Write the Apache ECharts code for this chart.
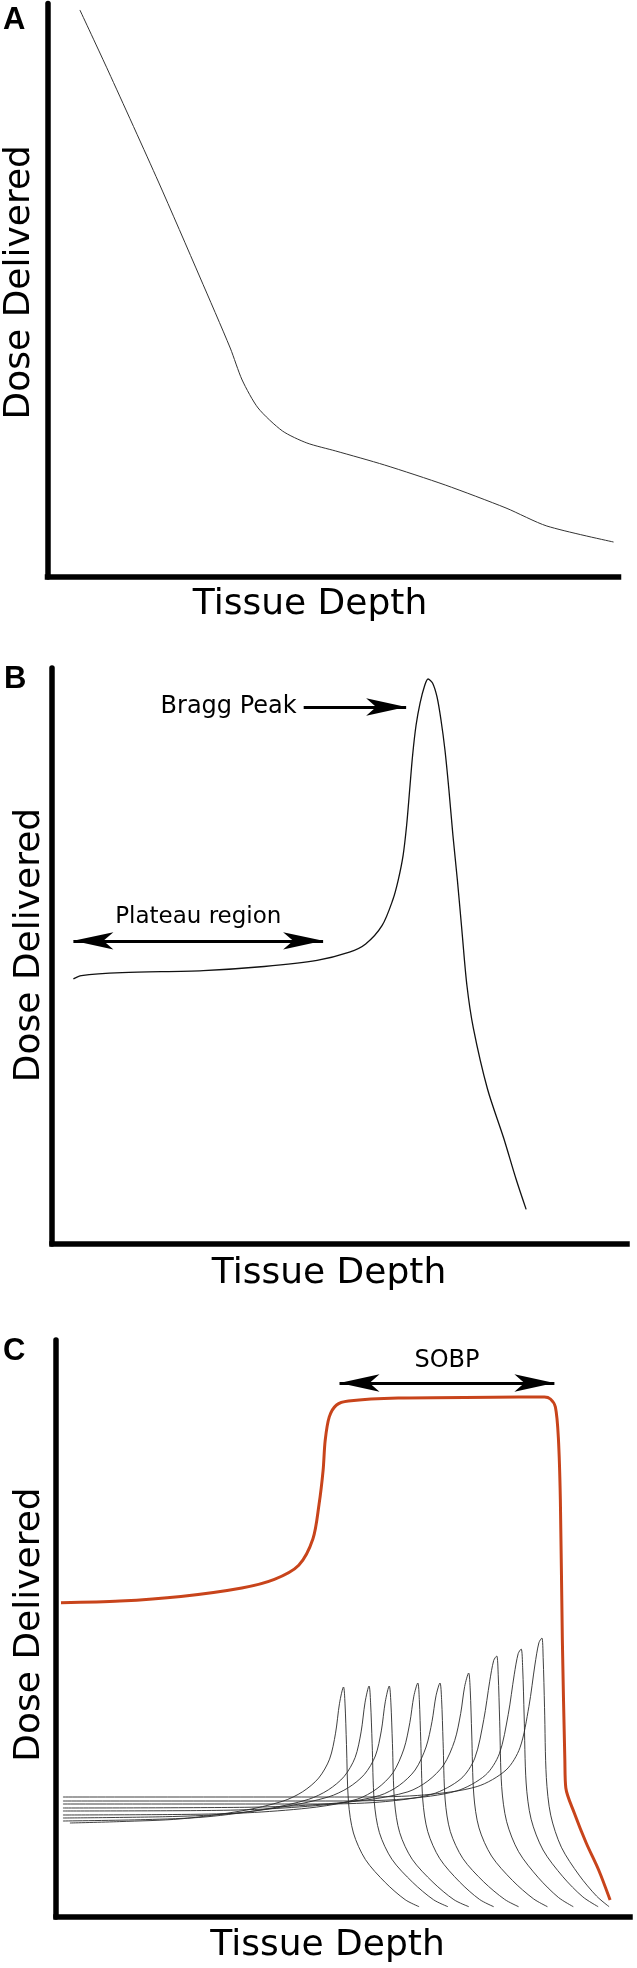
<!DOCTYPE html>
<html>
<head>
<meta charset="utf-8">
<script src="https://cdn.jsdelivr.net/npm/echarts/dist/echarts.min.js"></script>
<style>
  html, body { margin: 0; padding: 0; background: #fff; }
  #main { width: 637px; height: 1968px; }
</style>
</head>
<body>
<div id="main"></div>
<script>
// panel A: dose falls with depth (x: depth 0-100, y: dose 0-100)
var curveA = [[5.67,98.87],[10.64,88.23],[19.44,68.87],[26.68,52.31],[32.0,39.93],[34.09,34.35],[36.88,29.47],
  [41.15,25.46],[45.42,23.37],[50.48,21.97],[59.02,19.53],[69.66,16.04],[80.30,12.03],[87.45,8.89],[99.13,6.10]];

// panel B: single Bragg curve
var curveB = [[3.72,46.04],[5.12,46.61],[12.18,47.10],[26.30,47.47],[36.90,48.18],[46.09,49.24],[51.73,50.66],
  [54.55,52.08],[57.39,55.26],[59.26,59.72],[60.21,63.19],[61.07,67.53],[61.68,72.74],[62.20,78.82],[62.72,84.90],
  [63.32,90.10],[64.01,93.92],[64.79,96.88],[65.40,98.09],[66.18,97.40],[66.96,94.97],[67.65,90.97],[68.34,85.76],
  [69.03,78.82],[69.72,71.01],[70.50,63.19],[71.28,54.51],[72.15,44.97],[73.27,37.53],[75.74,26.91],[78.55,18.40],
  [80.69,11.32],[82.46,6.01]];
// arrow ends (tips)
var braggArrow = [[43.77,93.23],[61.59,93.23]];
var plateauArrow = [[3.72,52.64],[47.15,52.64]];

// panel C: spread-out Bragg peak (x, y in 0-57.7)
var sobp = [[0.5,31.42],[6.42,31.59],[12.55,32.06],[18.68,32.91],[21.95,33.77],[24.4,35.18],[25.83,37.83],
  [26.44,41.25],[26.85,44.67],[27.06,47.66],[27.47,50.01],[28.2,51.2],[29.4,51.6],[34.4,51.9],[44.0,51.97],
  [49.1,52.0],[49.7,51.8],[50.2,51.0],[50.5,47.9],[50.7,41.7],[50.9,27.7],[51.15,15.7],[51.25,12.9],[52.1,10.4],
  [53.3,7.4],[54.55,4.7],[55.7,1.7]];
var sobpArrow = [[28.5,53.4],[50.1,53.4]];

var peak1 = [[1.4,9.4],[6.4,9.54],[12.5,9.81],[18.7,10.62],[22.8,11.58],[24.8,12.53],[26.4,13.89],[27.5,15.79],
  [28.1,18.38],[28.5,21.37],[28.9,23.0],[29.05,21.39],[29.2,17.25],[29.4,11.5],[29.9,8.4],[31.1,5.75],[33.1,3.45],
  [35.1,1.73],[36.5,1.03]];
var peak2 = [[0.7,9.6],[8.97,9.74],[15.07,10.01],[21.27,10.82],[25.37,11.76],[27.37,12.71],[28.97,14.06],[30.07,15.95],
  [30.67,18.51],[31.07,21.48],[31.47,23.1],[31.62,21.48],[31.78,17.33],[31.99,11.55],[32.51,8.43],[33.76,5.78],
  [35.85,3.47],[37.94,1.73],[39.4,1.03]];
var peak3 = [[0.7,9.9],[11.0,10.03],[17.1,10.3],[23.3,11.09],[27.4,12.01],[29.4,12.94],[31.0,14.26],[32.1,16.1],
  [32.7,18.61],[33.1,21.52],[33.5,23.1],[33.66,21.48],[33.82,17.33],[34.03,11.55],[34.55,8.43],[35.8,5.78],
  [37.9,3.47],[40.0,1.73],[41.5,1.03]];
var peak4 = [[0.7,10.2],[13.87,10.27],[19.97,10.46],[26.17,10.99],[30.27,11.78],[32.27,12.84],[33.87,14.42],[34.97,16.8],
  [35.57,19.44],[35.97,22.08],[36.37,23.4],[36.52,21.76],[36.67,17.55],[36.87,11.7],[37.37,8.54],[38.57,5.85],
  [40.57,3.51],[42.57,1.76],[44.0,1.03]];
var peak5 = [[0.7,10.6],[16.1,10.66],[22.2,10.86],[28.4,11.37],[32.5,12.14],[34.5,13.16],[36.1,14.7],[37.2,17.0],
  [37.8,19.56],[38.2,22.12],[38.6,23.4],[38.76,21.76],[38.91,17.55],[39.12,11.7],[39.64,8.54],[40.9,5.85],
  [43.0,3.51],[45.1,1.76],[46.5,1.03]];
var peak6 = [[0.7,10.9],[18.98,10.97],[25.08,11.17],[31.28,11.71],[35.38,12.52],[37.38,13.6],[38.98,15.22],[40.08,17.65],
  [40.68,20.35],[41.08,23.05],[41.48,24.4],[41.64,22.69],[41.79,18.3],[42.0,12.2],[42.52,8.91],[43.78,6.1],
  [45.88,3.66],[47.98,1.83],[49.4,1.03]];
var peak7 = [[0.7,11.3],[26.3,11.3],[32.5,11.49],[37.8,12.28],[40.7,13.82],[42.1,15.89],[43.0,19.74],[43.6,23.58],
  [44.0,25.66],[44.3,26.1],[44.45,24.27],[44.6,19.58],[44.8,13.05],[45.3,9.53],[46.5,6.53],[48.5,3.92],
  [50.5,1.96],[52.0,1.03]];
var peak8 = [[0.7,11.6],[28.76,11.6],[34.96,11.8],[40.26,12.6],[43.16,14.18],[44.56,16.31],[45.46,20.26],[46.06,24.22],
  [46.46,26.34],[46.76,26.8],[46.91,24.92],[47.06,20.1],[47.26,13.4],[47.76,9.78],[48.96,6.7],[50.96,4.02],
  [52.96,2.01],[54.5,1.03]];
var peak9 = [[0.7,12.0],[30.84,12.0],[37.04,12.21],[42.34,13.05],[45.24,14.7],[46.64,16.93],[47.54,21.06],[48.14,25.2],
  [48.54,27.42],[48.84,27.9],[48.97,25.95],[49.11,20.93],[49.29,13.95],[49.73,10.18],[50.8,6.98],[52.58,4.19],
  [54.34,2.09],[55.6,1.03]];
var peaksC = [peak1, peak2, peak3, peak4, peak5, peak6, peak7, peak8, peak9];

var FONT = 'DejaVu Sans';

var myChart = echarts.init(document.getElementById('main'));

function xAx(idx, max, pad, gap) {
  return {
    type: 'value', gridIndex: idx, min: 0, max: max,
    axisLine: { show: true, onZero: false, lineStyle: { color: '#000', width: 5.5, cap: 'square' } },
    axisTick: { show: false }, axisLabel: { show: false }, splitLine: { show: false },
    name: 'Tissue Depth', nameLocation: 'middle', nameGap: gap,
    nameTextStyle: { fontFamily: FONT, fontSize: 36, color: '#000', padding: [0, pad, 0, 0] }
  };
}
function yAx(idx, max, pad, gap) {
  return {
    type: 'value', gridIndex: idx, min: 0, max: max,
    axisLine: { show: true, onZero: false, lineStyle: { color: '#000', width: 5.5 } },
    axisTick: { show: false }, axisLabel: { show: false }, splitLine: { show: false },
    name: 'Dose Delivered', nameLocation: 'middle', nameGap: gap,
    nameTextStyle: { fontFamily: FONT, fontSize: 36, color: '#000', padding: [0, 0, 0, pad] }
  };
}

var arrowStyle = { color: '#000', width: 3, type: 'solid' };
var arrowSize = [13, 40];

var series = [
  {
    type: 'line', xAxisIndex: 0, yAxisIndex: 0, data: curveA, smooth: 0.25,
    showSymbol: false, lineStyle: { color: '#333', width: 1 }
  },
  {
    type: 'line', xAxisIndex: 1, yAxisIndex: 1, data: curveB, smooth: 0.3,
    showSymbol: false, lineStyle: { color: '#111', width: 1.3 },
    markLine: {
      silent: true, symbolSize: arrowSize, lineStyle: arrowStyle,
      data: [
        [{ coord: braggArrow[0], symbol: 'none',
           label: { show: true, position: 'start', formatter: 'Bragg Peak', distance: 7,
                    fontFamily: FONT, fontSize: 24, color: '#000' } },
         { coord: braggArrow[1], symbol: 'arrow' }],
        [{ coord: plateauArrow[0], symbol: 'arrow',
           label: { show: true, position: 'insideMiddleTop', formatter: 'Plateau region', distance: 12,
                    fontFamily: FONT, fontSize: 23, color: '#000' } },
         { coord: plateauArrow[1], symbol: 'arrow' }]
      ]
    }
  },
  {
    type: 'line', xAxisIndex: 2, yAxisIndex: 2, data: sobp, smooth: 0.3, z: 3,
    showSymbol: false, lineStyle: { color: '#c8441b', width: 3 },
    markLine: {
      silent: true, symbolSize: arrowSize, lineStyle: arrowStyle,
      data: [
        [{ coord: sobpArrow[0], symbol: 'arrow',
           label: { show: true, position: 'insideMiddleTop', formatter: 'SOBP', distance: 10,
                    fontFamily: FONT, fontSize: 24, color: '#000' } },
         { coord: sobpArrow[1], symbol: 'arrow' }]
      ]
    }
  }
];
peaksC.forEach(function (d) {
  series.push({
    type: 'line', xAxisIndex: 2, yAxisIndex: 2, data: d, smooth: 0.3,
    showSymbol: false, lineStyle: { color: '#2a2a2a', width: 0.9 }
  });
});

var letterStyle = { fontFamily: 'Liberation Sans', fontSize: 31, fontWeight: 'bold', color: '#000' };

var option = {
  animation: false,
  backgroundColor: '#fff',
  title: [
    { text: 'A', left: 3, top: 5, padding: 0, textStyle: letterStyle },
    { text: 'B', left: 4, top: 664, padding: 0, textStyle: letterStyle },
    { text: 'C', left: 3, top: 1336, padding: 0, textStyle: letterStyle }
  ],
  grid: [
    { left: 47.5, top: 3.5, width: 571, height: 573.5, outerBoundsMode: 'none' },
    { left: 52, top: 668, width: 575, height: 576, outerBoundsMode: 'none' },
    { left: 56, top: 1340, width: 574, height: 577, outerBoundsMode: 'none' }
  ],
  xAxis: [xAx(0, 100, 46, 10), xAx(1, 100, 21, 12), xAx(2, 57.7, 31, 10.5)],
  yAxis: [yAx(0, 100, 16, 9.5), yAx(1, 100, 22, 4), yAx(2, 57.7, 8, 8.5)],
  series: series
};

myChart.setOption(option);
</script>
</body>
</html>
